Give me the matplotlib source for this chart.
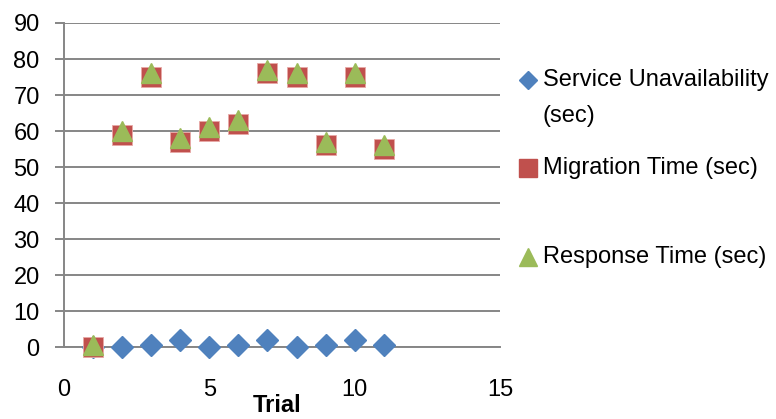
import matplotlib
matplotlib.use('Agg')
import matplotlib.pyplot as plt
from matplotlib.lines import Line2D

plt.rcParams['font.family'] = ['Liberation Sans Narrow', 'Liberation Sans', 'DejaVu Sans']

trial = [1, 2, 3, 4, 5, 6, 7, 8, 9, 10, 11]
service_unavail = [0, 0, 0.5, 2, 0, 0.5, 2, 0, 0.5, 2, 0.5]
migration_time = [0, 59, 75, 57, 60, 62, 76, 75, 56, 75, 55]
response_time = [0.5, 60, 76, 58, 61, 63, 77, 76, 57, 76, 56]

labels = [['Service Unavailability', '(sec)'], ['Migration Time (sec)'], ['Response Time (sec)']]
colors = ['#4F81BD', '#C0504D', '#9BBB59']
markers = ['D', 's', '^']

GRID = '#868686'
FS = 17

fig = plt.figure(figsize=(7.76, 4.19), dpi=100)
ax = fig.add_axes([64 / 776, 1 - 347 / 419, 436 / 776, 324 / 419])

ax.plot(trial, service_unavail, ls='none', marker='D', ms=11, color=colors[0], mec=colors[0], zorder=3, clip_on=False)
ax.plot(trial, migration_time, ls='none', marker='s', ms=14, color=colors[1], mec='#E8A9A7', mew=0.6, zorder=4, clip_on=False)
ax.plot(trial, response_time, ls='none', marker='^', ms=14.5, color=colors[2], mec=colors[2], zorder=5, clip_on=False)

ax.set_xlim(0, 15)
ax.set_ylim(0, 90)
ax.set_xticks([0, 5, 10, 15])
ax.set_yticks(range(0, 91, 10))
ax.set_xticks([0, 15], minor=True)
ax.yaxis.grid(True, color=GRID, lw=1.4)
ax.set_axisbelow(True)
for s in ('top', 'right'):
    ax.spines[s].set_visible(False)
ax.spines['left'].set_color(GRID)
ax.spines['left'].set_linewidth(1.4)
ax.spines['bottom'].set_color(GRID)
ax.spines['bottom'].set_linewidth(1.4)
ax.tick_params(axis='y', length=6.5, width=1.4, color=GRID, pad=11, labelsize=FS)
ax.tick_params(axis='x', which='major', length=0, pad=23, labelsize=FS)
ax.tick_params(axis='x', which='minor', length=6, width=1.4, color=GRID)

ax.set_xlabel('Trial', fontsize=FS, fontweight='bold')
ax.xaxis.set_label_coords(0.488, -0.146)

# legend drawn by hand to match the layout
leg_y = [80, 168, 257]
for lines, c, m, y in zip(labels, colors, markers, leg_y):
    ms = {'D': 9, 's': 12.5, '^': 13}[m]
    fig.add_artist(Line2D([528 / 776], [1 - y / 419], marker=m, ms=ms, color=c, ls='none'))
    for k, txt in enumerate(lines):
        fig.text(543 / 776, 1 - (y + 36 * k) / 419, txt, fontsize=FS, va='center', ha='left')

fig.savefig('out.png', dpi=100)
